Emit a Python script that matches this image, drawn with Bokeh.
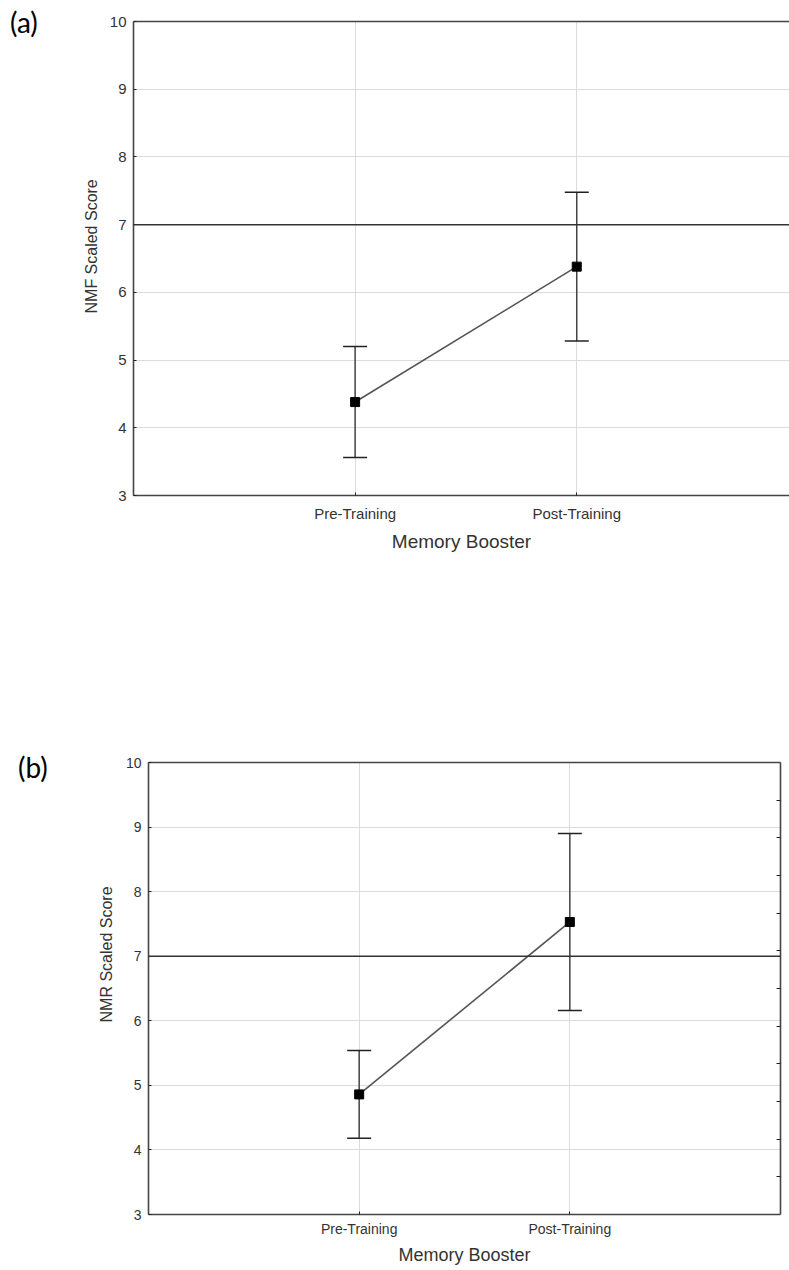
from bokeh.plotting import figure
from bokeh.models import (Range1d, FixedTicker, Span, Whisker, ColumnDataSource,
                          LinearAxis, TeeHead, Div, Title)
from bokeh.embed import file_html
from bokeh.resources import INLINE

# Sessions on the x axis
categories = ["Pre-Training", "Post-Training"]

# (a) NMF scaled score: means and half-width of the error bars
nmf_mean = [4.38, 6.38]
nmf_err = [0.82, 1.10]

# (b) NMR scaled score: means and half-width of the error bars
nmr_mean = [4.86, 7.53]
nmr_err = [0.68, 1.37]

y_ticks = [3, 4, 5, 6, 7, 8, 9, 10]
reference_score = 7

TICK_FONT = "Liberation Sans"
AXIS_COLOR = "#444444"
TEXT_COLOR = "#333333"
GRID_COLOR = "#dcdcdc"


def make_panel(means, errs, ylabel, width, height, left, right, top, bottom,
               x_end, tick_size, label_size, ylabel_size, ylabel_shift,
               ylabel_standoff, tick_standoff, xlabel_standoff, right_ticks):
    xs = [i + 1 for i in range(len(categories))]
    src = ColumnDataSource(dict(
        x=xs, mean=means,
        upper=[m + e for m, e in zip(means, errs)],
        lower=[m - e for m, e in zip(means, errs)],
    ))

    p = figure(width=width, height=height, output_backend="svg",
               toolbar_location=None, x_range=Range1d(0, x_end),
               y_range=Range1d(3, 10), min_border_left=left,
               min_border_right=right, min_border_top=top,
               min_border_bottom=bottom, background_fill_color="white",
               border_fill_color="white")
    p.outline_line_color = None

    # grid
    p.xgrid.ticker = FixedTicker(ticks=xs)
    p.ygrid.ticker = FixedTicker(ticks=y_ticks)
    for g in (p.xgrid, p.ygrid):
        g.grid_line_color = GRID_COLOR
        g.grid_line_width = 1

    # axes
    p.xaxis.ticker = FixedTicker(ticks=xs)
    p.xaxis.major_label_overrides = {x: c for x, c in zip(xs, categories)}
    p.yaxis.ticker = FixedTicker(ticks=y_ticks)
    p.xaxis.axis_label = "Memory Booster"
    for ax in (p.xaxis[0], p.yaxis[0]):
        ax.axis_line_color = AXIS_COLOR
        ax.axis_line_width = 1.6
        ax.major_tick_line_color = "#222222"
        ax.major_tick_in = 3
        ax.major_tick_out = 0
        ax.minor_tick_line_color = None
        ax.major_label_text_font = TICK_FONT
        ax.major_label_text_font_size = f"{tick_size}px"
        ax.major_label_text_color = TEXT_COLOR
        ax.axis_label_text_font = TICK_FONT
        ax.axis_label_text_font_size = f"{label_size}px"
        ax.axis_label_text_font_style = "normal"
        ax.axis_label_text_color = TEXT_COLOR
    p.xaxis.major_label_standoff = tick_standoff
    p.yaxis.major_label_standoff = 7
    p.xaxis.axis_label_standoff = xlabel_standoff

    # y axis title, starting a fixed distance above the bottom of the plot area
    p.add_layout(Title(text=ylabel, align="left", offset=ylabel_shift,
                       text_font=TICK_FONT, text_font_size=f"{ylabel_size}px",
                       text_font_style="normal", text_color=TEXT_COLOR,
                       standoff=ylabel_standoff), "left")

    # top border of the plot area
    top_ax = LinearAxis(axis_line_color=AXIS_COLOR, axis_line_width=1.6,
                        major_tick_line_color=None, minor_tick_line_color=None,
                        major_label_text_font_size="0px", major_label_standoff=0)
    p.add_layout(top_ax, "above")

    if right_ticks:
        p.extra_y_ranges = {"frac": Range1d(0, 12)}
        r_ax = LinearAxis(y_range_name="frac", axis_line_color=AXIS_COLOR,
                          axis_line_width=1.6,
                          ticker=FixedTicker(ticks=list(range(1, 12))),
                          major_tick_line_color="#222222", major_tick_in=4,
                          major_tick_out=0, minor_tick_line_color=None,
                          major_label_text_font_size="0px",
                          major_label_standoff=0)
        p.add_layout(r_ax, "right")

    # reference score line
    p.add_layout(Span(location=reference_score, dimension="width",
                      line_color="#333333", line_width=1.5))

    # error bars
    head = dict(size=24, line_color="#222222", line_width=1.5)
    p.add_layout(Whisker(source=src, base="x", upper="upper", lower="lower",
                         dimension="height", line_color="#444444",
                         line_width=1.5, upper_head=TeeHead(**head),
                         lower_head=TeeHead(**head)))

    # means connected by a line
    p.line("x", "mean", source=src, line_color="#555555", line_width=1.6)
    p.scatter("x", "mean", source=src, marker="square", size=9,
              fill_color="black", line_color="black")
    return p


def panel_tag(text, left, top):
    return Div(text=text, styles={
        "position": "absolute", "left": f"{left}px", "top": f"{top}px",
        "font-family": "Lato", "font-size": "28px", "line-height": "1",
        "color": "black", "margin": "0", "padding": "0",
    })


pa = make_panel(nmf_mean, nmf_err, "NMF Scaled Score",
                width=789, height=600, left=133, right=0, top=21, bottom=105,
                x_end=2.96, tick_size=15, label_size=19, ylabel_size=16,
                ylabel_shift=182, ylabel_standoff=14, tick_standoff=9,
                xlabel_standoff=6, right_ticks=False)

pb = make_panel(nmr_mean, nmr_err, "NMR Scaled Score",
                width=789, height=670, left=148, right=9, top=162, bottom=56,
                x_end=3.0, tick_size=14, label_size=18, ylabel_size=16,
                ylabel_shift=192, ylabel_standoff=16, tick_standoff=6,
                xlabel_standoff=5, right_ticks=True)

tag_a = panel_tag("(a)", 10, 8)
tag_b = panel_tag("(b)", 18, 753)

open("out.html", "w").write(file_html([pa, pb, tag_a, tag_b], INLINE))
